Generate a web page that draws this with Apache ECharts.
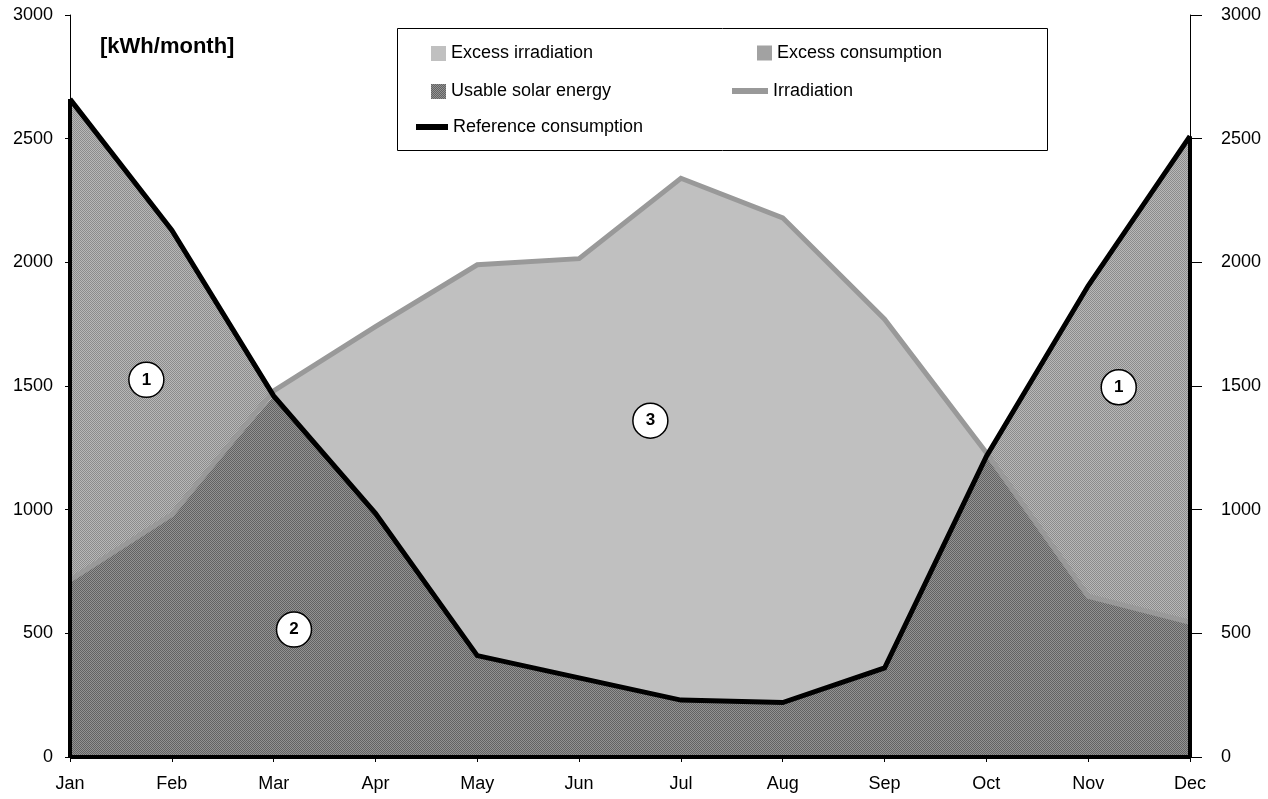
<!DOCTYPE html>
<html>
<head>
<meta charset="utf-8">
<script src="https://cdn.jsdelivr.net/npm/echarts@6/dist/echarts.min.js"></script>
<style>
html,body{margin:0;padding:0;background:#fff;}
#chart{width:1268px;height:799px;}
</style>
</head>
<body>
<div id="chart"></div>
<script>
// ---- data ----
const months = ['Jan','Feb','Mar','Apr','May','Jun','Jul','Aug','Sep','Oct','Nov','Dec'];
const irradiation = [715, 980, 1480, 1740, 1990, 2015, 2340, 2180, 1770, 1230, 650, 545];
const consumption = [2660, 2130, 1460, 985, 410, 320, 230, 220, 360, 1215, 1905, 2510];
const yTicks = [0, 500, 1000, 1500, 2000, 2500, 3000];
const markers = [[0.75, 1525, '1'], [2.2, 515, '2'], [5.7, 1360, '3'], [10.3, 1495, '1']];
const unitLabel = '[kWh/month]';

// derived stacked components
const usable = months.map((m, i) => Math.min(irradiation[i], consumption[i]));
const excessCons = months.map((m, i) => Math.max(consumption[i] - irradiation[i], 0));
const excessIrr = months.map((m, i) => Math.max(irradiation[i] - consumption[i], 0));

function hatch(light, dark) {
  const c = document.createElement('canvas');
  c.width = 2; c.height = 2;
  const ctx = c.getContext('2d');
  ctx.fillStyle = light; ctx.fillRect(0, 0, 2, 2);
  ctx.fillStyle = dark;
  ctx.fillRect(0, 0, 1, 1);
  ctx.fillRect(1, 1, 1, 1);
  return { image: c, repeat: 'repeat' };
}
const darkPat = hatch('#929292', '#626262');
const medPat = hatch('#b8b8b8', '#8c8c8c');
const lightCol = '#c0c0c0';

const FONT = '"Liberation Sans", Arial, sans-serif';
const legendText = { fontFamily: FONT, fontSize: 18, color: '#000', lineHeight: 20 };

function leg(name, left, top, w, h, style) {
  return {
    z: 20, left: left, top: top, padding: 0, selectedMode: false,
    itemWidth: w, itemHeight: h, textStyle: legendText,
    data: [{ name: name, icon: 'rect', itemStyle: style, lineStyle: { width: 0, opacity: 0 } }]
  };
}
const yFmt = v => (yTicks.indexOf(v) >= 0 ? String(v) : '');

const chart = echarts.init(document.getElementById('chart'), null, { renderer: 'canvas' });
chart.setOption({
  animation: false,
  backgroundColor: '#fff',
  grid: { left: 70, right: 78, top: 15, bottom: 42, containLabel: false },
  graphic: [
    { type: 'rect', z: 10, shape: { x: 397.5, y: 28.5, width: 650, height: 122 },
      style: { fill: '#fff', stroke: '#000', lineWidth: 1 } },
    { type: 'text', z: 10, left: 100, top: 36,
      style: { text: unitLabel, fontFamily: FONT, fontSize: 22, fontWeight: 'bold', fill: '#000' } }
  ],
  legend: [
    leg('Excess irradiation', 431, 43.5, 15, 15, { color: lightCol }),
    leg('Usable solar energy', 431, 81.5, 15, 15, { color: darkPat }),
    leg('Reference consumption', 416, 117, 32, 6, { color: '#000' }),
    leg('Excess consumption', 757, 43, 15, 15, { color: medPat }),
    leg('Irradiation', 732, 81, 36, 6, { color: '#999' })
  ],
  xAxis: [
    {
      type: 'category', data: months, boundaryGap: false,
      axisLine: { show: true, lineStyle: { color: '#000', width: 1 } },
      axisTick: { show: true, length: 5, lineStyle: { color: '#000' } },
      axisLabel: { color: '#000', fontFamily: FONT, fontSize: 18, margin: 18 },
      splitLine: { show: false }
    },
    { type: 'value', min: 0, max: 11, show: false }
  ],
  yAxis: [
    {
      type: 'value', min: 0, max: 3000, interval: 500, position: 'left',
      axisLine: { show: true, lineStyle: { color: '#000', width: 1 } },
      axisTick: { show: true, length: 5, lineStyle: { color: '#000' } },
      axisLabel: { color: '#000', fontFamily: FONT, fontSize: 18, margin: 17, formatter: yFmt },
      splitLine: { show: false }
    },
    {
      type: 'value', min: 0, max: 3000, interval: 500, position: 'right',
      axisLine: { show: true, lineStyle: { color: '#000', width: 1 } },
      axisTick: { show: true, length: 12, lineStyle: { color: '#000' } },
      axisLabel: { color: '#000', fontFamily: FONT, fontSize: 18, margin: 31, formatter: yFmt },
      splitLine: { show: false }
    }
  ],
  series: [
    { name: 'Usable solar energy', type: 'line', stack: 'e', data: usable, symbol: 'none', z: 2,
      lineStyle: { width: 0 }, itemStyle: { color: darkPat }, areaStyle: { color: darkPat, opacity: 1 } },
    { name: 'Excess consumption', type: 'line', stack: 'e', data: excessCons, symbol: 'none', z: 2,
      lineStyle: { width: 0 }, itemStyle: { color: medPat }, areaStyle: { color: medPat, opacity: 1 } },
    { name: 'Excess irradiation', type: 'line', stack: 'e', data: excessIrr, symbol: 'none', z: 2,
      lineStyle: { width: 0 }, itemStyle: { color: lightCol }, areaStyle: { color: lightCol, opacity: 1 } },
    { name: 'Irradiation', type: 'line', data: irradiation, symbol: 'none', z: 3,
      itemStyle: { color: '#999' }, lineStyle: { color: '#999', width: 5, join: 'miter' } },
    { name: 'Reference consumption', type: 'line', data: consumption, symbol: 'none', z: 4,
      itemStyle: { color: '#000' }, lineStyle: { color: '#000', width: 5, join: 'miter' },
      markLine: {
        silent: true, symbol: 'none', animation: false,
        label: { show: false },
        lineStyle: { color: '#000', width: 4, type: 'solid' },
        data: [
          [{ coord: [months[0], 0] }, { coord: [months[0], consumption[0]] }],
          [{ coord: [months[11], 0] }, { coord: [months[11], consumption[11]] }],
          [{ coord: [months[0], 0] }, { coord: [months[11], 0] }]
        ]
      }
    },
    { name: 'markers', type: 'scatter', xAxisIndex: 1, yAxisIndex: 0, z: 6,
      data: markers.map(m => ({ value: [m[0], m[1]], label: { formatter: m[2] } })),
      symbol: 'circle', symbolSize: 35,
      itemStyle: { color: '#fff', borderColor: '#000', borderWidth: 1.5, opacity: 1 },
      label: { show: true, position: 'inside', color: '#000', fontFamily: FONT, fontSize: 17, fontWeight: 'bold' }
    }
  ]
});
</script>
</body>
</html>
